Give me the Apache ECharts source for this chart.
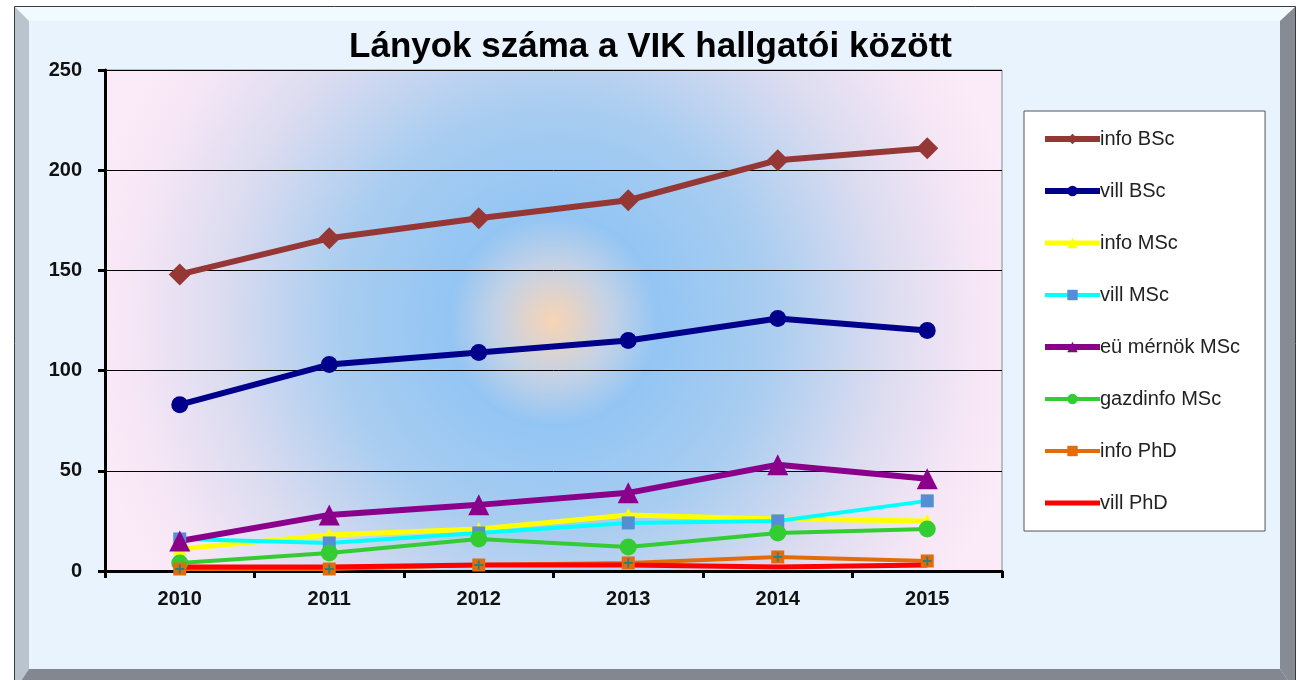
<!DOCTYPE html>
<html>
<head>
<meta charset="utf-8">
<script src="https://cdn.jsdelivr.net/npm/echarts@6/dist/echarts.min.js"></script>
<style>
  html, body { margin: 0; padding: 0; background: #fff; }
  #chart { width: 1301px; height: 680px; }
</style>
</head>
<body>
<div id="chart"></div>
<script>
const years = ["2010", "2011", "2012", "2013", "2014", "2015"];
const infoBSc = [148, 166, 176, 185, 205, 211];
const villBSc = [83, 103, 109, 115, 126, 120];
const infoMSc = [11, 18, 21, 28, 26, 25];
const villMSc = [16, 14, 19, 24, 25, 35];
const euMSc = [15, 28, 33, 39, 53, 46];
const gazdMSc = [4, 9, 16, 12, 19, 21];
const infoPhD = [1, 1, 3, 4, 7, 5];
const villPhD = [2, 2, 3, 3, 2, 3];
const yTicks = [0, 50, 100, 150, 200, 250];

const chart = echarts.init(document.getElementById("chart"));
const font = "'Liberation Sans', Arial, sans-serif";
const plus = "path://M4,0h2v4h4v2h-4v4h-2v-4h-4v-2h4z";

function line(name, data, color, width, symbol, size, symColor) {
  return {
    name: name,
    type: "line",
    data: data,
    symbol: symbol,
    symbolSize: size,
    showSymbol: symbol !== "none",
    lineStyle: { color: color, width: width },
    itemStyle: { color: symColor || color },
    emphasis: { disabled: true },
  };
}

const option = {
  backgroundColor: "#ffffff",
  animation: false,
  title: {
    text: "Lányok száma a VIK hallgatói között",
    left: "center",
    top: 25,
    textStyle: { fontFamily: font, fontSize: 35, fontWeight: "bold", color: "#000" },
  },
  graphic: [
    { type: "rect", z: -10, shape: { x: 14.5, y: 6.5, width: 1281, height: 690 },
      style: { fill: "#e9f3fd", stroke: "#3a3a3a", lineWidth: 1 } },
    { type: "polygon", z: -9, shape: { points: [[15, 7], [1295, 7], [1280, 21], [29, 21]] },
      style: { fill: "#f1faff" } },
    { type: "polygon", z: -9, shape: { points: [[15, 7], [29, 21], [29, 669], [15, 690]] },
      style: { fill: "#b9c4cf" } },
    { type: "polygon", z: -9, shape: { points: [[1295, 7], [1295, 690], [1280, 669], [1280, 21]] },
      style: { fill: "#878b93" } },
    { type: "polygon", z: -9, shape: { points: [[29, 669], [1280, 669], [1295, 690], [15, 690]] },
      style: { fill: "#83878f" } },
  ],
  grid: {
    left: 105,
    right: 299,
    top: 70,
    bottom: 109,
    show: true,
    borderColor: "#8a8a8a",
    borderWidth: 1,
    backgroundColor: {
      type: "radial",
      x: 0.5,
      y: 0.5,
      r: 0.95,
      colorStops: [
        { offset: 0, color: "#f8d4b4" },
        { offset: 0.12, color: "#c4d2e6" },
        { offset: 0.22, color: "#93c5f4" },
        { offset: 0.45, color: "#a9cdf0" },
        { offset: 0.7, color: "#dcdcf0" },
        { offset: 0.9, color: "#f7e7f6" },
        { offset: 1, color: "#fbeaf8" },
      ],
    },
  },
  legend: {
    orient: "vertical",
    left: 1024,
    top: 111,
    padding: [18, 25, 18, 18],
    itemWidth: 55,
    itemHeight: 13,
    itemGap: 32,
    backgroundColor: "#ffffff",
    borderColor: "#555",
    borderWidth: 1,
    lineStyle: { width: "inherit" },
    data: [
      "info BSc", "vill BSc", "info MSc", "vill MSc", "eü mérnök MSc", "gazdinfo MSc", "info PhD",
      { name: "vill PhD", itemStyle: { opacity: 0 } },
    ],
    textStyle: { fontFamily: font, fontSize: 20, color: "#222", padding: [0, 0, 0, -5] },
  },
  xAxis: {
    type: "category",
    data: years,
    boundaryGap: true,
    axisLine: { lineStyle: { color: "#000", width: 3 } },
    axisTick: { show: true, length: 7, lineStyle: { color: "#000", width: 3 } },
    axisLabel: { margin: 18, fontFamily: font, fontSize: 20, fontWeight: "bold", color: "#111" },
  },
  yAxis: {
    type: "value",
    min: yTicks[0],
    max: yTicks[yTicks.length - 1],
    interval: 50,
    axisLine: { show: true, lineStyle: { color: "#000", width: 3 } },
    axisTick: { show: true, length: 7, lineStyle: { color: "#000", width: 3 } },
    axisLabel: { margin: 23, fontFamily: font, fontSize: 20, fontWeight: "bold", color: "#111" },
    splitLine: { show: true, lineStyle: { color: "#000", width: 1 } },
  },
  series: [
    line("info BSc", infoBSc, "#953735", 6, "diamond", 22),
    line("vill BSc", villBSc, "#00008b", 6, "circle", 17),
    line("info MSc", infoMSc, "#ffff00", 5, "triangle", 14),
    line("vill MSc", villMSc, "#00ffff", 4, "rect", 13, "#558ed5"),
    line("eü mérnök MSc", euMSc, "#8b008b", 6, "triangle", 21),
    line("gazdinfo MSc", gazdMSc, "#33cc33", 4, "circle", 17),
    line("info PhD", infoPhD, "#e36c0a", 4, "rect", 13),
    line("vill PhD", villPhD, "#ff0000", 5, "none", 0),
    {
      name: "info PhD cross",
      type: "line",
      data: infoPhD,
      symbol: plus,
      symbolSize: 9,
      lineStyle: { opacity: 0 },
      itemStyle: { color: "#2a7f7f" },
      z: 5,
      emphasis: { disabled: true },
    },
  ],
};

chart.setOption(option);
</script>
</body>
</html>
